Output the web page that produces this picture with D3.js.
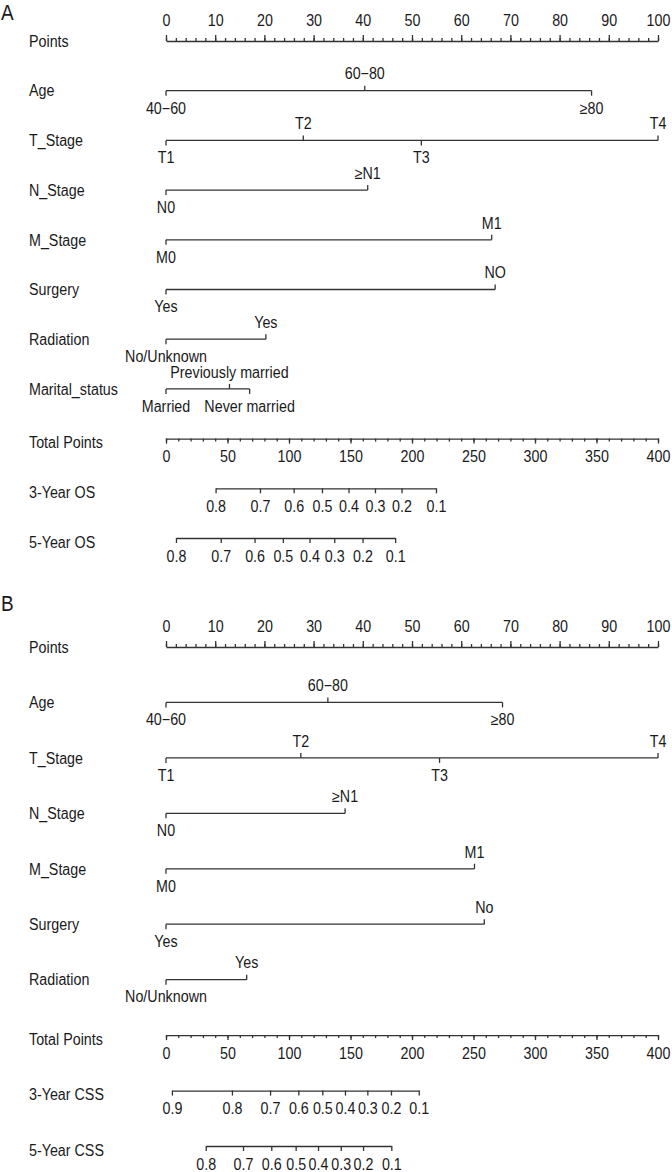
<!DOCTYPE html>
<meta charset="utf-8">
<style>
    body { margin: 0; background: #fff; }
    svg { display: block; }
    text {
        font-family: "Liberation Sans", Arial, Helvetica, sans-serif; fill: #1a1a1a;
        transform-box: fill-box; transform-origin: center; transform: scaleY(1.12);
    }
    .rowlab { font-size: 14.3px; }
    .lev { font-size: 14.3px; text-anchor: middle; }
    .panel-letter { font-size: 19px; }
    .scale line, .scale path { stroke: #333; stroke-width: 1.3px; fill: none; }
    .scale text { font-size: 14.3px; }
</style>
<svg width="672" height="1172"></svg>
<script src="https://cdnjs.cloudflare.com/ajax/libs/d3/7.8.5/d3.min.js"></script>
<script>

    // ---- panel A (OS) ----
    var rowsA = ["Points", "Age", "T_Stage", "N_Stage", "M_Stage", "Surgery", "Radiation", "Marital_status", "Total Points", "3-Year OS", "5-Year OS"];
    var ageLevels = ["40\u221260", "60\u221280", "\u226580"];
    var agePtsA = [0, 40.4, 86.5];
    var tLevels = ["T1", "T2", "T3", "T4"];
    var tPtsA = [0, 27.9, 51.9, 100];
    var nLevels = ["N0", "\u2265N1"];
    var nPtsA = [0, 41];
    var mLevels = ["M0", "M1"];
    var mPtsA = [0, 66.2];
    var surgLevelsA = ["Yes", "NO"];
    var surgPtsA = [0, 66.9];
    var radLevels = ["No/Unknown", "Yes"];
    var radPtsA = [0, 20.3];
    var maritalLevels = ["Married", "Previously married", "Never married"];
    var maritalPtsA = [0, 12.9, 17.0];
    var os3Probs = [0.8, 0.7, 0.6, 0.5, 0.4, 0.3, 0.2, 0.1];
    var os3Total = [40.3, 76.4, 103.8, 126.8, 148.4, 169.9, 191.5, 219.5];
    var os5Probs = [0.8, 0.7, 0.6, 0.5, 0.4, 0.3, 0.2, 0.1];
    var os5Total = [8.1, 44.5, 72, 95, 116.7, 136.8, 159.8, 186.3];

    // ---- panel B (CSS) ----
    var rowsB = ["Points", "Age", "T_Stage", "N_Stage", "M_Stage", "Surgery", "Radiation", "Total Points", "3-Year CSS", "5-Year CSS"];
    var agePtsB = [0, 32.9, 68.4];
    var tPtsB = [0, 27.4, 55.6, 100];
    var nPtsB = [0, 36.4];
    var mPtsB = [0, 62.7];
    var surgLevelsB = ["Yes", "No"];
    var surgPtsB = [0, 64.7];
    var radPtsB = [0, 16.4];
    var css3Probs = [0.9, 0.8, 0.7, 0.6, 0.5, 0.4, 0.3, 0.2, 0.1];
    var css3Total = [4.8, 53.6, 84.6, 107.6, 127.1, 145.5, 163.7, 182.9, 205.5];
    var css5Probs = [0.8, 0.7, 0.6, 0.5, 0.4, 0.3, 0.2, 0.1];
    var css5Total = [32.3, 62.6, 85.6, 105.4, 123.6, 142.1, 160.2, 183.2];

    var svg = d3.select("svg");
    var x0 = 166, x1 = 658;

    var panels = [
        {
            letter: "A", top: 19, rows: rowsA, yRange: [41, 538],
            preds: {
                "Age": [ageLevels, agePtsA], "T_Stage": [tLevels, tPtsA], "N_Stage": [nLevels, nPtsA],
                "M_Stage": [mLevels, mPtsA], "Surgery": [surgLevelsA, surgPtsA], "Radiation": [radLevels, radPtsA],
                "Marital_status": [maritalLevels, maritalPtsA]
            },
            probs: { "3-Year OS": [os3Probs, os3Total], "5-Year OS": [os5Probs, os5Total] }
        },
        {
            letter: "B", top: 610, rows: rowsB, yRange: [647, 1146],
            preds: {
                "Age": [ageLevels, agePtsB], "T_Stage": [tLevels, tPtsB], "N_Stage": [nLevels, nPtsB],
                "M_Stage": [mLevels, mPtsB], "Surgery": [surgLevelsB, surgPtsB], "Radiation": [radLevels, radPtsB]
            },
            probs: { "3-Year CSS": [css3Probs, css3Total], "5-Year CSS": [css5Probs, css5Total] }
        }
    ];

    var x = d3.scaleLinear().domain([0, 100]).range([x0, x1]);
    var xt = d3.scaleLinear().domain([0, 400]).range([x0, x1]);

    panels.forEach(function (p) {
        var g = svg.append("g");
        var y = d3.scalePoint().domain(p.rows).range(p.yRange);

        g.append("text").attr("class", "panel-letter")
            .attr("x", 1).attr("y", p.top).text(p.letter);

        p.rows.forEach(function (r) {
            var yy = y(r);
            var isBottom = r === "Total Points" || p.probs[r];
            g.append("text").attr("class", "rowlab")
                .attr("x", 29).attr("y", yy + (isBottom ? 4 : 0))
                .attr("dominant-baseline", "central")
                .text(r);

            if (r === "Points") {
                var ax = g.append("g").attr("class", "scale").attr("transform", "translate(0," + yy + ")");
                ax.call(d3.axisTop(x).tickValues(d3.range(0, 101, 2)).tickSize(3).tickSizeOuter(0).tickFormat(""));
                ax.append("g").call(d3.axisTop(x).tickValues(d3.range(0, 101, 10)).tickSize(6).tickPadding(10))
                    .select(".domain").remove();
            } else if (r === "Total Points") {
                var at = g.append("g").attr("class", "scale").attr("transform", "translate(0," + yy + ")");
                at.call(d3.axisBottom(xt).tickValues(d3.range(0, 401, 10)).tickSize(3).tickSizeOuter(0).tickFormat(""));
                at.append("g").call(d3.axisBottom(xt).tickValues(d3.range(0, 401, 50)).tickSize(5).tickPadding(8))
                    .select(".domain").remove();
            } else if (p.probs[r]) {
                var pr = p.probs[r];
                var ps = d3.scaleLinear().domain(pr[0]).range(pr[1].map(xt));
                g.append("g").attr("class", "scale").attr("transform", "translate(0," + yy + ")")
                    .call(d3.axisBottom(ps).tickValues(pr[0]).tickSize(5).tickSizeOuter(0).tickPadding(8)
                        .tickFormat(d3.format(".1f")));
            } else {
                var lv = p.preds[r][0], pts = p.preds[r][1];
                var order = d3.range(lv.length).sort(function (a, b) { return pts[a] - pts[b]; });
                var sg = g.append("g").attr("class", "scale");
                sg.append("path")
                    .attr("d", "M" + x(d3.min(pts)) + "," + yy + "H" + x(d3.max(pts)));
                order.forEach(function (k, i) {
                    var dir = i % 2 === 0 ? 1 : -1;   // even -> below, odd -> above
                    sg.append("line")
                        .attr("x1", x(pts[k])).attr("x2", x(pts[k]))
                        .attr("y1", yy).attr("y2", yy + dir * 5);
                    g.append("text").attr("class", "lev")
                        .attr("x", x(pts[k])).attr("y", yy + dir * 17)
                        .attr("dominant-baseline", "central")
                        .text(lv[k]);
                });
            }
        });
    });

    svg.selectAll(".scale").attr("color", "#222").attr("font-family", null).attr("font-size", null);

</script>
